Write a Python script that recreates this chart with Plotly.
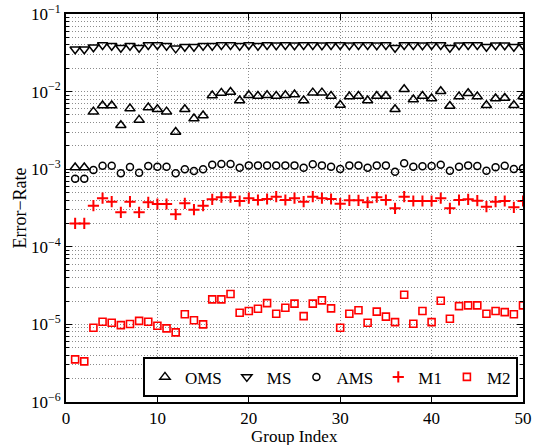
import plotly.graph_objects as go

group_index = list(range(1, 51))

oms = [0.00105, 0.00105, 0.00552, 0.00661, 0.00661, 0.00368, 0.00604, 0.00432, 0.00622, 0.00591,
       0.00552, 0.00302, 0.00591, 0.00449, 0.00491, 0.00888, 0.00962, 0.00990, 0.00766, 0.00897,
       0.00879, 0.00897, 0.00879, 0.00897, 0.00915, 0.00766, 0.00970, 0.00970, 0.00879, 0.00673,
       0.00862, 0.00879, 0.00766, 0.00879, 0.00879, 0.00591, 0.01072, 0.00789, 0.00879, 0.00813,
       0.01010, 0.00653, 0.00862, 0.00952, 0.00862, 0.00667, 0.00813, 0.00828, 0.00667, 0.00862]

ms = [0.0351, 0.0351, 0.0372, 0.0399, 0.0390, 0.0368, 0.0390, 0.0368, 0.0399, 0.0399,
      0.0390, 0.0361, 0.0379, 0.0379, 0.0390, 0.0390, 0.0399, 0.0399, 0.0390, 0.0399,
      0.0390, 0.0399, 0.0395, 0.0399, 0.0395, 0.0399, 0.0399, 0.0395, 0.0399, 0.0399,
      0.0395, 0.0399, 0.0399, 0.0395, 0.0399, 0.0368, 0.0399, 0.0399, 0.0395, 0.0399,
      0.0399, 0.0368, 0.0395, 0.0399, 0.0399, 0.0379, 0.0395, 0.0395, 0.0379, 0.0399]

ams = [7.55e-4, 7.55e-4, 9.77e-4, 1.11e-3, 1.11e-3, 8.85e-4, 1.067e-3, 9.02e-4, 1.10e-3, 1.078e-3,
       1.078e-3, 8.85e-4, 9.96e-4, 9.48e-4, 9.96e-4, 1.144e-3, 1.167e-3, 1.167e-3, 1.047e-3, 1.12e-3,
       1.12e-3, 1.12e-3, 1.12e-3, 1.12e-3, 1.12e-3, 1.047e-3, 1.155e-3, 1.12e-3, 1.078e-3, 1.006e-3,
       1.12e-3, 1.12e-3, 1.047e-3, 1.12e-3, 1.12e-3, 9.29e-4, 1.19e-3, 1.078e-3, 1.089e-3, 1.10e-3,
       1.144e-3, 9.57e-4, 1.078e-3, 1.12e-3, 1.10e-3, 9.57e-4, 1.057e-3, 1.11e-3, 1.006e-3, 1.026e-3]

m1 = [2.0e-4, 2.0e-4, 3.39e-4, 4.23e-4, 3.82e-4, 2.78e-4, 3.82e-4, 2.78e-4, 3.74e-4, 3.56e-4,
      3.56e-4, 2.62e-4, 3.63e-4, 3.01e-4, 3.39e-4, 4.09e-4, 4.35e-4, 4.35e-4, 3.89e-4, 4.23e-4,
      4.01e-4, 4.13e-4, 4.43e-4, 4.01e-4, 4.23e-4, 3.82e-4, 4.43e-4, 4.23e-4, 4.13e-4, 3.60e-4,
      3.97e-4, 3.97e-4, 3.74e-4, 4.35e-4, 4.01e-4, 3.13e-4, 4.43e-4, 3.89e-4, 3.89e-4, 3.89e-4,
      4.23e-4, 3.13e-4, 4.01e-4, 4.09e-4, 3.93e-4, 3.29e-4, 3.82e-4, 3.89e-4, 3.23e-4, 3.89e-4]

m2 = [3.54e-6, 3.34e-6, 9.06e-6, 1.08e-5, 1.05e-5, 9.8e-6, 1.01e-5, 1.11e-5, 1.08e-5, 9.6e-6,
      8.88e-6, 7.89e-6, 1.35e-5, 1.13e-5, 1.0e-5, 2.10e-5, 2.10e-5, 2.46e-5, 1.41e-5, 1.49e-5,
      1.59e-5, 1.88e-5, 1.37e-5, 1.64e-5, 1.85e-5, 1.28e-5, 1.85e-5, 2.04e-5, 1.61e-5, 9.06e-6,
      1.37e-5, 1.52e-5, 1.05e-5, 1.46e-5, 1.26e-5, 1.07e-5, 2.41e-5, 1.02e-5, 1.49e-5, 1.07e-5,
      2.02e-5, 1.18e-5, 1.72e-5, 1.76e-5, 1.76e-5, 1.37e-5, 1.49e-5, 1.44e-5, 1.35e-5, 1.76e-5]

y_tickvals = [1e-6, 1e-5, 1e-4, 1e-3, 1e-2, 1e-1]
y_ticktext = ["10<sup>−6</sup>", "10<sup>−5</sup>", "10<sup>−4</sup>",
              "10<sup>−3</sup>", "10<sup>−2</sup>", "10<sup>−1</sup>"]
x_tickvals = [0, 10, 20, 30, 40, 50]
x_title = "Group Index"
y_title = "Error−Rate"

minor_vals = [k * d for d in y_tickvals[:-1] for k in range(2, 10)]

FONT = "Liberation Serif, Times New Roman, serif"
series = [
    ("OMS", oms, "triangle-up-open", "black", 9, 1.5),
    ("MS", ms, "triangle-down-open", "black", 9, 1.5),
    ("AMS", ams, "circle-open", "black", 7, 1.5),
    ("M1", m1, "cross-thin-open", "red", 8, 2),
    ("M2", m2, "square-open", "red", 7, 1.6),
]

fig = go.Figure()
for name, vals, sym, col, sz, lw in series:
    fig.add_trace(go.Scatter(
        x=group_index, y=vals, mode="markers", name=name,
        marker=dict(symbol=sym, size=sz, color=col, line=dict(color=col, width=lw)),
    ))

GRIDCOL = "#8c8c8c"
grid = dict(showgrid=True, gridcolor=GRIDCOL, gridwidth=1, griddash="1px,2px")

fig.update_layout(
    template="none",
    width=537, height=445,
    margin=dict(l=66, r=14, t=14, b=43, autoexpand=False),
    paper_bgcolor="white", plot_bgcolor="white",
    font=dict(family=FONT, size=17, color="black"),
    showlegend=True,
    legend=dict(
        orientation="h", x=0.989, xanchor="right", y=0.012, yanchor="bottom",
        bgcolor="white", bordercolor="black", borderwidth=2,
        font=dict(family=FONT, size=17), itemwidth=30, tracegroupgap=0,
    ),
    annotations=[dict(text=x_title, xref="paper", yref="paper", x=0.5, y=-0.088,
                      xanchor="center", yanchor="middle", showarrow=False,
                      font=dict(family=FONT, size=17, color="black"))],
)
fig.update_xaxes(
    automargin=False,
    range=[0, 50], tickmode="array", tickvals=x_tickvals,
    ticks="inside", ticklen=6, tickwidth=1, tickcolor="black", mirror="allticks",
    showline=True, linecolor="black", linewidth=2, ticklabelstandoff=0,
    zeroline=False,
    **grid,
)
fig.update_yaxes(
    automargin=False,
    type="log", range=[-6, -1], tickmode="array", tickvals=y_tickvals, ticktext=y_ticktext,
    ticks="inside", ticklen=6, tickwidth=1, tickcolor="black", mirror="allticks",
    showline=True, linecolor="black", linewidth=2,
    zeroline=False,
    title=dict(text=y_title, font=dict(family=FONT, size=18), standoff=0),
    minor=dict(tickmode="array", tickvals=minor_vals, ticks="inside", ticklen=3,
               tickcolor="black", showgrid=True, gridcolor=GRIDCOL, griddash="1px,2px"),
    **grid,
)

fig.write_html("out.html", config={"displayModeBar": False},
               post_script="document.body.style.margin='0';")
